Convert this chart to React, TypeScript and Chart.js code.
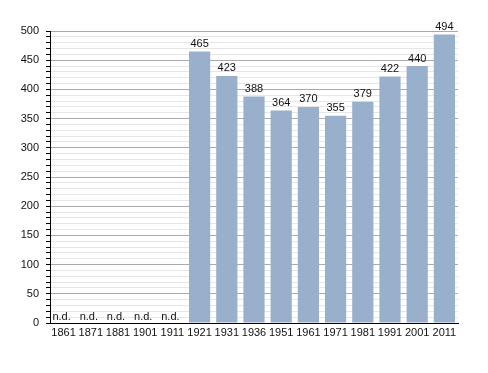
import React, { useEffect, useRef } from "react";
import { Chart, registerables } from "chart.js";
Chart.register(...registerables);

const years = ["1861","1871","1881","1901","1911","1921","1931","1936","1951","1961","1971","1981","1991","2001","2011"];
const population: (number | null)[] = [null,null,null,null,null,465,423,388,364,370,355,379,422,440,494];
const missingLabel = "n.d.";

const labelPlugin = {
  id: "barLabels",
  afterDatasetsDraw(chart: any) {
    const ctx = chart.ctx;
    const meta = chart.getDatasetMeta(0);
    const yScale = chart.scales.y;
    ctx.save();
    ctx.font = "11px 'Liberation Sans', Arial, sans-serif";
    ctx.fillStyle = "#111";
    ctx.textAlign = "center";
    ctx.textBaseline = "bottom";
    meta.data.forEach((bar: any, i: number) => {
      const v = population[i];
      const x = chart.scales.x.getPixelForValue(i);
      if (v == null) {
        ctx.fillText(missingLabel, x - 2, yScale.getPixelForValue(0) - 1);
      } else {
        ctx.fillText(String(v), x, bar.y - 2);
      }
    });
    ctx.restore();
  },
};

export default function App() {
  const ref = useRef<HTMLCanvasElement>(null);
  useEffect(() => {
    const chart = new Chart(ref.current!, {
      type: "bar",
      data: {
        labels: years,
        datasets: [{ data: population as any, backgroundColor: "#98b0cc", barPercentage: 0.78, categoryPercentage: 1 }],
      },
      options: {
        animation: false,
        responsive: false,
        layout: { padding: { left: 8, top: 31, right: 30, bottom: 30 } },
        plugins: { legend: { display: false }, tooltip: { enabled: false } },
        scales: {
          x: {
            grid: { display: false, drawTicks: false },
            border: { display: true, color: "#000", width: 1 },
            ticks: { color: "#111", font: { family: "'Liberation Sans', Arial, sans-serif", size: 11 }, maxRotation: 0, autoSkip: false, padding: 3 },
            afterFit: (s: any) => { s.height = 20; },
          },
          y: {
            min: 0,
            max: 500,
            grid: {
              color: (c: any) => (c.tick && c.tick.value % 50 === 0 ? "#aaaaaa" : "#e6e6e6"),
              tickColor: "#000",
              tickLength: 4,
            },
            border: { display: true, color: "#000", width: 1 },
            ticks: {
              stepSize: 10,
              autoSkip: false,
              color: "#111",
              font: { family: "'Liberation Sans', Arial, sans-serif", size: 11 },
              padding: 7,
              callback: (v: any) => (Number(v) % 50 === 0 ? String(v) : ""),
            },
            afterFit: (s: any) => { s.width = 42; },
          },
        },
      },
      plugins: [labelPlugin],
    });
    return () => chart.destroy();
  }, []);
  return (
    <div style={{ position: "fixed", left: 0, top: 0, width: 488, height: 373, background: "#fff" }}>
      <canvas ref={ref} width={488} height={373} />
    </div>
  );
}
